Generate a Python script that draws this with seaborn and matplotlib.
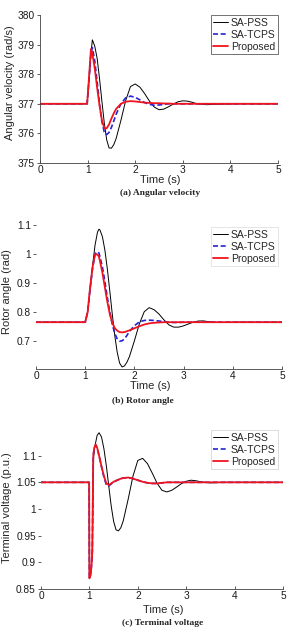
import numpy as np
import pandas as pd
import matplotlib
matplotlib.use('Agg')
import matplotlib.pyplot as plt
import seaborn as sns

'''
data read off the reference
'''
# (a) angular velocity
t_w = [0, 0.99, 1.03, 1.07, 1.1, 1.15, 1.2, 1.25, 1.3, 1.35, 1.4, 1.45, 1.5, 1.55, 1.6, 1.7, 1.8,
       1.9, 2.0, 2.1, 2.2, 2.3, 2.4, 2.5, 2.6, 2.7, 2.8, 2.9, 3.0, 3.1, 3.2, 3.3, 3.5, 3.8, 4.2, 5.0]
w_pss = [377.0, 377.0, 377.8, 378.7, 379.16, 378.95, 378.54, 377.86, 377.09, 376.36, 375.79, 375.51,
         375.5, 375.62, 375.83, 376.44, 377.11, 377.58, 377.67, 377.56, 377.34, 377.09, 376.89, 376.8,
         376.82, 376.9, 376.99, 377.07, 377.1, 377.09, 377.05, 377.0, 376.97, 376.99, 377.0, 377.0]
w_tcps = [377.0, 377.0, 377.8, 378.7, 378.9, 378.45, 377.75, 377.0, 376.4, 376.05, 375.96, 376.03,
          376.2, 376.42, 376.65, 377.0, 377.2, 377.26, 377.22, 377.13, 377.04, 376.98, 376.95, 376.96,
          376.98, 377.0, 377.0, 377.0, 377.0, 377.0, 377.0, 377.0, 377.0, 377.0, 377.0, 377.0]
w_prop = [377.0, 377.0, 377.9, 378.85, 378.7, 378.2, 377.55, 376.95, 376.45, 376.18, 376.17, 376.3,
          376.5, 376.68, 376.83, 377.0, 377.07, 377.09, 377.08, 377.06, 377.04, 377.03, 377.02, 377.02,
          377.01, 377.01, 377.0, 377.0, 377.0, 377.0, 377.0, 377.0, 377.0, 377.0, 377.0, 377.0]

# (b) rotor angle
t_d = [0, 1.0, 1.05, 1.1, 1.15, 1.2, 1.25, 1.28, 1.3, 1.35, 1.4, 1.45, 1.5, 1.55, 1.6, 1.65, 1.7, 1.75,
       1.8, 1.85, 1.9, 2.0, 2.1, 2.2, 2.3, 2.4, 2.5, 2.6, 2.7, 2.8, 2.9, 3.0, 3.1, 3.2, 3.3, 3.4, 3.5,
       3.7, 4.0, 5.0]
d_pss = [0.765, 0.765, 0.80, 0.88, 0.96, 1.03, 1.075, 1.085, 1.082, 1.059, 1.013, 0.948, 0.872, 0.793,
         0.72, 0.662, 0.624, 0.611, 0.615, 0.628, 0.647, 0.701, 0.759, 0.801, 0.815, 0.808, 0.793, 0.773,
         0.756, 0.748, 0.748, 0.7525, 0.759, 0.7655, 0.769, 0.7695, 0.767, 0.764, 0.765, 0.765]
d_tcps = [0.765, 0.765, 0.80, 0.88, 0.95, 1.0, 1.008, 1.003, 0.99, 0.955, 0.905, 0.85, 0.80, 0.758,
          0.727, 0.708, 0.70, 0.701, 0.708, 0.72, 0.733, 0.753, 0.766, 0.771, 0.772, 0.771, 0.769, 0.767,
          0.765, 0.764, 0.764, 0.765, 0.765, 0.765, 0.765, 0.765, 0.765, 0.765, 0.765, 0.765]
d_prop = [0.765, 0.765, 0.80, 0.885, 0.955, 0.998, 0.998, 0.99, 0.975, 0.935, 0.885, 0.835, 0.793,
          0.763, 0.745, 0.736, 0.731, 0.73, 0.731, 0.734, 0.737, 0.744, 0.751, 0.757, 0.761, 0.763, 0.764,
          0.765, 0.765, 0.765, 0.765, 0.765, 0.765, 0.765, 0.765, 0.765, 0.765, 0.765, 0.765, 0.765]

# (c) terminal voltage
t_v = [0, 0.995, 1.0, 1.02, 1.04, 1.06, 1.08, 1.1, 1.13, 1.16, 1.2, 1.25, 1.3, 1.35, 1.4, 1.45, 1.5,
       1.55, 1.6, 1.65, 1.7, 1.8, 1.9, 2.0, 2.1, 2.2, 2.3, 2.4, 2.5, 2.6, 2.7, 2.8, 2.9, 3.0, 3.1, 3.2,
       3.3, 3.5, 3.8, 5.0]
v_pss = [1.05, 1.05, 0.87, 0.875, 0.89, 0.92, 1.09, 1.11, 1.125, 1.138, 1.143, 1.135, 1.113, 1.081,
         1.043, 1.006, 0.977, 0.961, 0.959, 0.965, 0.978, 1.018, 1.0615, 1.091, 1.095, 1.085, 1.067,
         1.048, 1.035, 1.032, 1.035, 1.041, 1.0475, 1.052, 1.054, 1.053, 1.051, 1.049, 1.05, 1.05]
v_tcps = [1.05, 1.05, 0.87, 0.875, 0.89, 0.92, 1.10, 1.115, 1.12, 1.114, 1.10, 1.079, 1.06, 1.045,
          1.043, 1.047, 1.05, 1.053, 1.055, 1.057, 1.058, 1.059, 1.057, 1.054, 1.051, 1.049, 1.048,
          1.048, 1.049, 1.05, 1.05, 1.05, 1.05, 1.05, 1.05, 1.05, 1.05, 1.05, 1.05, 1.05]
v_prop = [1.05, 1.05, 0.87, 0.875, 0.89, 0.92, 1.10, 1.115, 1.121, 1.115, 1.10, 1.08, 1.062, 1.048,
          1.045, 1.048, 1.051, 1.053, 1.055, 1.057, 1.058, 1.059, 1.057, 1.054, 1.051, 1.049, 1.048,
          1.048, 1.049, 1.05, 1.05, 1.05, 1.05, 1.05, 1.05, 1.05, 1.05, 1.05, 1.05, 1.05]

names = ['SA-PSS', 'SA-TCPS', 'Proposed']

'''
style
'''
sns.set_theme(style="white")
plt.rcParams['font.family'] = ['Liberation Sans', 'DejaVu Sans']
plt.rcParams['axes.linewidth'] = 0.6

colors = ['black', '#2424d8', '#f0141e']
styles = ['-', (0, (3, 1.6)), '-']
widths = [0.7, 1.2, 1.3]

fig = plt.figure(figsize=(2.89, 6.32), dpi=100)
W, H = 289, 632


def add_ax(l, t, r, b):
    return fig.add_axes([l / W, 1 - b / H, (r - l) / W, (b - t) / H])


panels = [
    dict(box=(40, 15, 278, 163), t=t_w, ys=[w_pss, w_tcps, w_prop], ylim=(375, 380),
         yticks=[375, 376, 377, 378, 379, 380], yfmt='{:g}', ylabel='Angular velocity (rad/s)',
         ylab_px=(10, 83), xlab_px=(160, 180), cap='(a) Angular velocity', cap_px=(160, 193),
         leg=((278, 15)), left_spine=True, leg_edge='0.2', yticklab=None),
    dict(box=(36, 219, 282, 369), t=t_d, ys=[d_pss, d_tcps, d_prop], ylim=(0.604, 1.12),
         yticks=[0.7, 0.8, 0.9, 1.0, 1.1], ylabel='Rotor angle (rad)',
         ylab_px=(7, 292), xlab_px=(150, 386), cap='(b) Rotor angle', cap_px=(143, 401),
         leg=((278, 227)), left_spine=False, leg_edge='0.85',
         yticklab=['0.7', '0.8', '0.9', '1', '1.1']),
    dict(box=(41, 429, 283, 589), t=t_v, ys=[v_pss, v_tcps, v_prop], ylim=(0.85, 1.15),
         yticks=[0.85, 0.9, 0.95, 1.0, 1.05, 1.1], ylabel='Terminal voltage (p.u.)',
         ylab_px=(7, 508), xlab_px=(163, 610), cap='(c) Terminal voltage', cap_px=(163, 623),
         leg=((278, 430)), left_spine=False, leg_edge='0.8',
         yticklab=['0.85', '0.9', '0.95', '1', '1.05', '1.1']),
]

for p in panels:
    l, t, r, b = p['box']
    ax = add_ax(l, t, r, b)
    for y, name, c, ls, lw in zip(p['ys'], names, colors, styles, widths):
        sns.lineplot(x=p['t'], y=y, ax=ax, color=c, linestyle=ls, linewidth=lw,
                     label=name, sort=False, estimator=None)
    ax.set_xlim(0, 5)
    ax.set_ylim(*p['ylim'])
    ax.set_xticks([0, 1, 2, 3, 4, 5])
    ax.set_yticks(p['yticks'])
    if p['yticklab'] is not None:
        ax.set_yticklabels(p['yticklab'])
    sns.despine(ax=ax, left=not p['left_spine'])
    for s in ['left', 'bottom']:
        ax.spines[s].set_color('0.25')
    ax.tick_params(axis='x', direction='in', length=2.5, width=0.5, pad=1.5, labelsize=7.3,
                   bottom=True, colors='0.1')
    ax.tick_params(axis='y', direction='out', length=2.5, width=0.5, pad=1.2, labelsize=7.3,
                   left=True, colors='0.1')
    ax.grid(False)

    ax.set_xlabel('Time (s)', fontsize=8, va='center')
    ax.xaxis.set_label_coords((p['xlab_px'][0] - l) / (r - l), (b - p['xlab_px'][1]) / (b - t))
    ax.set_ylabel(p['ylabel'], fontsize=8, va='center')
    ax.yaxis.set_label_coords((p['ylab_px'][0] - l) / (r - l), (b - p['ylab_px'][1]) / (b - t))

    lx, ly = p['leg']
    leg = ax.legend(loc='upper right', bbox_to_anchor=((lx - l) / (r - l), (b - ly) / (b - t)),
                    fontsize=7.5, frameon=True, fancybox=False, borderaxespad=0,
                    handlelength=1.4, handletextpad=0.25, labelspacing=0.2, borderpad=0.25)
    leg.get_frame().set_edgecolor(p['leg_edge'])
    leg.get_frame().set_linewidth(0.6)

    fig.text(p['cap_px'][0] / W, 1 - p['cap_px'][1] / H, p['cap'], ha='center', va='center',
             fontsize=6.8, fontweight='bold', family=['Liberation Serif', 'DejaVu Serif'])

fig.savefig('out.png', dpi=100)
